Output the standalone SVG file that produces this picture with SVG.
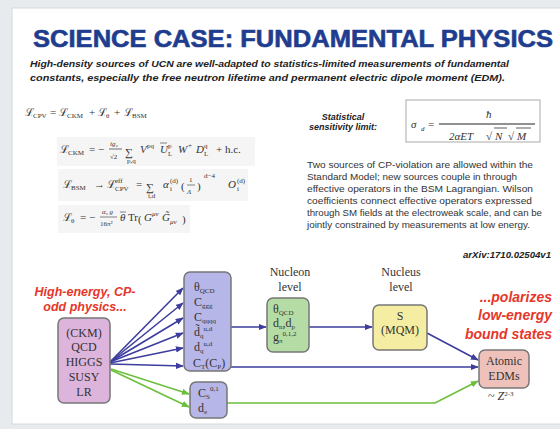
<svg xmlns="http://www.w3.org/2000/svg" width="560" height="429" viewBox="0 0 560 429">
<style>
.title{font-family:"Liberation Sans",Arial,sans-serif;font-weight:900;font-size:23px;fill:#1f3d8f;stroke:#1f3d8f;stroke-width:0.6}
.sub{font-family:"Liberation Sans",Arial,sans-serif;font-weight:bold;font-style:italic;font-size:9px;fill:#222}
.eq{font-family:"Liberation Serif","DejaVu Serif",serif;font-size:11px;fill:#333}
.es{font-family:"Liberation Serif","DejaVu Serif",serif;font-size:7px;fill:#333}
.it{font-style:italic}
.para{font-family:"Liberation Sans",Arial,sans-serif;font-size:8.6px;fill:#333}
.red{font-family:"Liberation Sans",Arial,sans-serif;font-weight:bold;font-style:italic;fill:#e5372a}
.nt{font-family:"Liberation Serif","Times New Roman",serif;font-size:12px;fill:#333}
.ns{font-family:"Liberation Serif","Times New Roman",serif;font-size:7px;fill:#333}
.box{stroke:#777;stroke-width:1.5}
.blue{stroke:#3d3d9e;stroke-width:1.6;fill:none}
.green{stroke:#6cbf3c;stroke-width:1.6;fill:none}
</style>
<defs>
<marker id="ab" viewBox="0 0 10 10" refX="9" refY="5" markerWidth="5" markerHeight="5" orient="auto"><path d="M0,1 L10,5 L0,9 z" fill="#3d3d9e"/></marker>
<marker id="ag" viewBox="0 0 10 10" refX="9" refY="5" markerWidth="5" markerHeight="5" orient="auto"><path d="M0,1 L10,5 L0,9 z" fill="#6cbf3c"/></marker>
</defs>
<rect x="0" y="0" width="560" height="429" fill="#e7ebee"/>
<rect x="12" y="8" width="550" height="416" fill="#ffffff" stroke="#d4d9dc" stroke-width="1"/>

<text class="title" x="33" y="47" textLength="520" lengthAdjust="spacingAndGlyphs">SCIENCE CASE: FUNDAMENTAL PHYSICS</text>
<text class="sub" x="30" y="67" textLength="479" lengthAdjust="spacingAndGlyphs">High-density sources of UCN are well-adapted to statistics-limited measurements of fundamental</text>
<text class="sub" x="30" y="81" textLength="475" lengthAdjust="spacingAndGlyphs">constants, especially the free neutron lifetime and permanent electric dipole moment (EDM).</text>

<!-- equations -->
<g id="equations">
<rect x="57" y="137" width="198" height="29" fill="#f5f5f5"/>
<rect x="58" y="169" width="190" height="32" fill="#f5f5f5"/>
<rect x="58" y="205" width="132" height="28" fill="#f5f5f5"/>
<text class="eq" x="25" y="116">ℒ</text><text class="es" x="33" y="118">CPV</text>
<text class="eq" x="50" y="116">=</text>
<text class="eq" x="59" y="116">ℒ</text><text class="es" x="67" y="118">CKM</text>
<text class="eq" x="89" y="116">+</text>
<text class="eq" x="98" y="116">ℒ</text><text class="es" x="106" y="118">θ</text>
<text class="eq" x="114" y="116">+</text>
<text class="eq" x="124" y="116">ℒ</text><text class="es" x="132" y="118">BSM</text>

<text class="eq" x="60" y="153">ℒ</text><text class="es" x="68" y="155">CKM</text>
<text class="eq" x="89" y="153">= −</text>
<text class="es it" x="110" y="146" font-size="8">ig₂</text>
<line x1="109" y1="149" x2="122" y2="149" stroke="#333" stroke-width="0.7"/>
<text class="es" x="110" y="159" font-size="8">√2</text>
<text class="eq" x="125" y="156" font-size="15">∑</text>
<text class="es" x="127" y="163" font-size="6">p,q</text>
<text class="eq it" x="140" y="153">V</text><text class="es" x="147" y="148">pq</text>
<text class="eq it" x="160" y="153">U</text><line x1="160" y1="143" x2="167" y2="143" stroke="#333" stroke-width="0.6"/><text class="es" x="168" y="148">p</text><text class="es" x="168" y="156">L</text>
<text class="eq it" x="178" y="153">W</text><text class="es" x="188" y="148">+</text>
<text class="eq it" x="196" y="153">D</text><text class="es" x="204" y="148">q</text><text class="es" x="204" y="156">L</text>
<text class="eq" x="216" y="153">+ h.c.</text>

<text class="eq" x="63" y="188">ℒ</text><text class="es" x="71" y="190">BSM</text>
<text class="eq" x="94" y="188">→</text>
<text class="eq" x="107" y="188">ℒ</text><text class="es" x="115" y="183">eff</text><text class="es" x="115" y="191">CPV</text>
<text class="eq" x="136" y="188">=</text>
<text class="eq" x="146" y="191" font-size="15">∑</text>
<text class="es" x="148" y="198" font-size="6">i,d</text>
<text class="eq it" x="163" y="188">α</text><text class="es" x="170" y="183">(d)</text><text class="es" x="170" y="191">i</text>
<text class="eq" x="181" y="190" font-size="16">(</text>
<text class="es" x="189" y="182" font-size="8">1</text>
<line x1="187" y1="185" x2="195" y2="185" stroke="#333" stroke-width="0.6"/>
<text class="es it" x="187" y="194" font-size="8">Λ</text>
<text class="eq" x="197" y="190" font-size="16">)</text>
<text class="es" x="204" y="178">d−4</text>
<text class="eq it" x="228" y="188">O</text><text class="es" x="237" y="183">(d)</text><text class="es" x="237" y="191">i</text>

<text class="eq" x="63" y="221">ℒ</text><text class="es" x="71" y="223">θ</text>
<text class="eq" x="80" y="221">= −</text>
<text class="es it" x="102" y="214" font-size="8">α<tspan font-size="5" dy="1">s</tspan><tspan dy="-1"> g</tspan></text>
<line x1="100" y1="217" x2="117" y2="217" stroke="#333" stroke-width="0.6"/>
<text class="es" x="100" y="226" font-size="8">16π²</text>
<text class="eq it" x="120" y="221">θ</text><line x1="120" y1="212" x2="126" y2="212" stroke="#333" stroke-width="0.6"/>
<text class="eq" x="128" y="221">Tr</text>
<text class="eq" x="138" y="223" font-size="16">(</text>
<text class="eq it" x="144" y="221">G</text><text class="es it" x="152" y="216">μν</text>
<text class="eq it" x="162" y="221">G&#x303;</text><text class="es it" x="170" y="224">μν</text>
<text class="eq" x="182" y="223" font-size="16">)</text>
</g>

<!-- sensitivity -->
<g id="sensitivity">
<text class="sub" x="343" y="120" text-anchor="middle" font-size="8.5">Statistical</text>
<text class="sub" x="343" y="130" text-anchor="middle" font-size="8.5">sensitivity limit:</text>
<rect x="406" y="100" width="134" height="42" fill="#fff" stroke="#aaa" stroke-width="1"/>
<text class="eq it" x="411" y="128" font-size="16">σ</text><text class="es it" x="421" y="131" font-size="8">d</text>
<text class="eq" x="428" y="128" font-size="14">=</text>
<line x1="439" y1="124" x2="535" y2="124" stroke="#222" stroke-width="1"/>
<text class="eq it" x="486" y="118" font-size="15">ħ</text>
<text class="eq it" x="449" y="140" font-size="14">2αET</text>
<text class="eq" x="486" y="140" font-size="14">√</text><line x1="494" y1="128" x2="507" y2="128" stroke="#333" stroke-width="0.8"/>
<text class="eq it" x="495" y="140" font-size="14">N</text>
<text class="eq" x="508" y="140" font-size="14">√</text><line x1="516" y1="128" x2="531" y2="128" stroke="#333" stroke-width="0.8"/>
<text class="eq it" x="517" y="140" font-size="14">M</text>
</g>

<g id="paragraph">
<text class="para" x="307" y="168" textLength="226" lengthAdjust="spacingAndGlyphs">Two sources of CP-violation are allowed within the</text>
<text class="para" x="307" y="180" textLength="210" lengthAdjust="spacingAndGlyphs">Standard Model; new sources couple in through</text>
<text class="para" x="307" y="192" textLength="226" lengthAdjust="spacingAndGlyphs">effective operators in the BSM Lagrangian. Wilson</text>
<text class="para" x="307" y="204" textLength="225" lengthAdjust="spacingAndGlyphs">coefficients connect effective operators expressed</text>
<text class="para" x="307" y="216" textLength="235" lengthAdjust="spacingAndGlyphs">through SM fields at the electroweak scale, and can be</text>
<text class="para" x="307" y="228" textLength="223" lengthAdjust="spacingAndGlyphs">jointly constrained by measurements at low energy.</text>
<text class="sub" x="551" y="258" text-anchor="end" font-weight="normal" font-size="8" textLength="88" lengthAdjust="spacingAndGlyphs">arXiv:1710.02504v1</text>
</g>

<!-- red labels -->
<text class="red" x="85" y="296" text-anchor="middle" font-size="12.5">High-energy, CP-</text>
<text class="red" x="85" y="311" text-anchor="middle" font-size="12.5">odd physics...</text>
<text class="red" x="552" y="302" text-anchor="end" font-size="14">...polarizes</text>
<text class="red" x="552" y="320" text-anchor="end" font-size="14">low-energy</text>
<text class="red" x="552" y="339" text-anchor="end" font-size="14">bound states</text>

<!-- level labels -->
<text class="nt" x="290" y="276" text-anchor="middle">Nucleon</text>
<text class="nt" x="290" y="291" text-anchor="middle">level</text>
<text class="nt" x="401" y="276" text-anchor="middle">Nucleus</text>
<text class="nt" x="401" y="291" text-anchor="middle">level</text>

<!-- connectors -->
<g id="connectors">
<line class="blue" x1="110" y1="362" x2="183" y2="288" marker-end="url(#ab)"/>
<line class="blue" x1="110" y1="362" x2="183" y2="303" marker-end="url(#ab)"/>
<line class="blue" x1="110" y1="362" x2="183" y2="318" marker-end="url(#ab)"/>
<line class="blue" x1="110" y1="362" x2="183" y2="333" marker-end="url(#ab)"/>
<line class="blue" x1="110" y1="363" x2="183" y2="348" marker-end="url(#ab)"/>
<line class="blue" x1="110" y1="364" x2="183" y2="366" marker-end="url(#ab)"/>
<line class="green" x1="111" y1="369" x2="189" y2="394" marker-end="url(#ag)"/>
<line class="green" x1="111" y1="370" x2="189" y2="407" marker-end="url(#ag)"/>
<line class="blue" x1="231" y1="327" x2="266" y2="327" marker-end="url(#ab)"/>
<line class="blue" x1="309" y1="327" x2="372" y2="327" marker-end="url(#ab)"/>
<line class="blue" x1="427" y1="333" x2="478" y2="360" marker-end="url(#ab)"/>
<line class="blue" x1="231" y1="367" x2="478" y2="367" marker-end="url(#ab)"/>
<polyline class="green" points="227,403 435,403 478,381" marker-end="url(#ag)"/>
</g>

<!-- nodes -->
<g id="fundamental">
<rect class="box" x="58" y="318" width="52" height="85" rx="6" fill="#dcb4dc"/>
<text class="nt" x="84" y="337" text-anchor="middle" font-size="12.5">(CKM)</text>
<text class="nt" x="84" y="351" text-anchor="middle" font-size="12.5">QCD</text>
<text class="nt" x="84" y="366" text-anchor="middle" font-size="12.5">HIGGS</text>
<text class="nt" x="84" y="381" text-anchor="middle" font-size="12.5">SUSY</text>
<text class="nt" x="84" y="396" text-anchor="middle" font-size="12.5">LR</text>
</g>

<g id="wilson">
<rect class="box" x="184" y="272" width="47" height="99" rx="6" fill="#b6b6e8"/>
<text class="nt" x="194" y="291">θ<tspan class="ns" dy="2">QCD</tspan></text>
<text class="nt" x="194" y="306">C<tspan class="ns" dy="2">ggg</tspan></text>
<text class="nt" x="194" y="321">C<tspan class="ns" dy="2">qqqq</tspan></text>
<text class="nt" x="194" y="336">d&#x303;<tspan class="ns" dy="2">q</tspan><tspan class="ns" dy="-7">u,d</tspan></text>
<text class="nt" x="194" y="351">d<tspan class="ns" dy="2">q</tspan><tspan class="ns" dy="-7">u,d</tspan></text>
<text class="nt" x="193" y="367">C<tspan class="ns" dy="2">T</tspan><tspan dy="-2">(C</tspan><tspan class="ns" dy="2">P</tspan><tspan dy="-2">)</tspan></text>
</g>

<g id="electron">
<rect class="box" x="190" y="382" width="37" height="36" rx="6" fill="#b6b6e8"/>
<text class="nt" x="198" y="397">C<tspan class="ns" dy="2">S</tspan><tspan class="ns" dy="-8">0,1</tspan></text>
<text class="nt" x="198" y="412">d<tspan class="ns" dy="2">e</tspan></text>
</g>

<g id="nucleon">
<rect class="box" x="267" y="298" width="42" height="54" rx="6" fill="#b6dca6"/>
<text class="nt" x="273" y="313" font-size="11">θ<tspan class="ns" dy="2">QCD</tspan></text>
<text class="nt" x="273" y="327" font-size="11">d<tspan class="ns" dy="2">n</tspan><tspan dy="-2">,d</tspan><tspan class="ns" dy="2">p</tspan></text>
<text class="nt" x="273" y="341" font-size="11">g<tspan class="ns" dy="2">π</tspan><tspan class="ns" dy="-7">0,1,2</tspan></text>
</g>

<g id="nucleus">
<rect class="box" x="373" y="305" width="54" height="45" rx="6" fill="#f5eea2"/>
<text class="nt" x="400" y="320" text-anchor="middle">S</text>
<text class="nt" x="400" y="334" text-anchor="middle">(MQM)</text>
</g>

<g id="atomic">
<rect class="box" x="479" y="350" width="50" height="38" rx="6" fill="#eec2ba"/>
<text class="nt" x="504" y="365" text-anchor="middle">Atomic</text>
<text class="nt" x="504" y="380" text-anchor="middle">EDMs</text>
<text class="nt" x="488" y="400" font-size="10">~ <tspan font-style="italic">Z</tspan><tspan class="ns" dy="-4">2-3</tspan></text>
</g>
</svg>
